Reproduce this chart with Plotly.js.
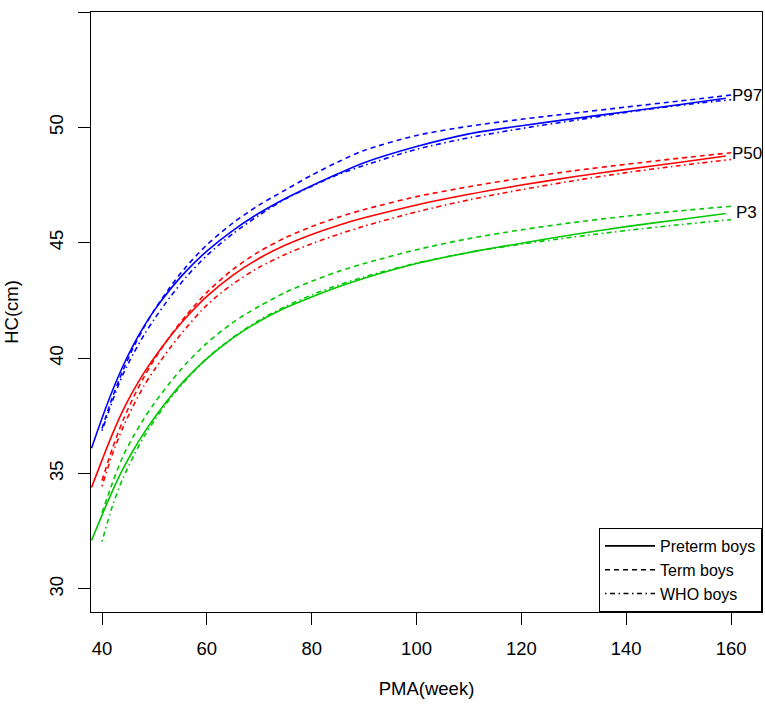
<!DOCTYPE html>
<html>
<head>
<meta charset="utf-8">
<script src="https://cdn.plot.ly/plotly-3.0.1.min.js"></script>
<style>
  body { margin: 0; background: #fff; }
  #plot { width: 765px; height: 708px; }
</style>
</head>
<body>
<div id="plot"></div>
<script>
// PMA (weeks) for each group of curves
var pmaPreterm = [38, 40, 42, 44, 46, 48, 50, 53, 56, 60, 65, 70, 75, 80, 85, 90, 100, 110, 120, 130, 140, 150, 159];
var pmaRef = [40, 42, 44, 46, 48, 50, 53, 56, 60, 65, 70, 75, 80, 85, 90, 100, 110, 120, 130, 140, 150, 160];

// head circumference (cm)
var pretermP97 = [36.1, 37.4, 38.6, 39.66, 40.58, 41.38, 42.08, 42.98, 43.76, 44.64, 45.54, 46.29, 46.92, 47.47, 47.99, 48.47, 49.17, 49.72, 50.07, 50.38, 50.68, 50.98, 51.26];
var pretermP50 = [34.4, 35.58, 36.72, 37.74, 38.6, 39.36, 40.03, 40.94, 41.75, 42.68, 43.6, 44.33, 44.9, 45.36, 45.75, 46.08, 46.64, 47.1, 47.5, 47.86, 48.18, 48.48, 48.76];
var pretermP3 = [32.1, 33.2, 34.25, 35.2, 36.02, 36.76, 37.42, 38.32, 39.1, 39.98, 40.88, 41.6, 42.18, 42.65, 43.08, 43.46, 44.1, 44.58, 44.98, 45.36, 45.7, 46.0, 46.27];

var termP97 = [36.95, 38.31, 39.47, 40.47, 41.33, 42.09, 43.08, 43.95, 44.91, 45.86, 46.64, 47.29, 47.93, 48.5, 49.0, 49.65, 50.05, 50.35, 50.62, 50.88, 51.14, 51.4];
var termP50 = [34.7, 36.1, 37.3, 38.3, 39.18, 39.95, 40.96, 41.84, 42.85, 43.85, 44.62, 45.22, 45.7, 46.1, 46.44, 47.0, 47.43, 47.8, 48.12, 48.4, 48.66, 48.9];
var termP3 = [33.3, 34.6, 35.75, 36.62, 37.38, 38.05, 38.95, 39.75, 40.65, 41.55, 42.25, 42.85, 43.33, 43.75, 44.1, 44.7, 45.18, 45.56, 45.88, 46.15, 46.38, 46.58];

var whoP97 = [36.85, 38.15, 39.3, 40.2, 41.0, 41.7, 42.65, 43.5, 44.45, 45.4, 46.2, 46.9, 47.45, 47.95, 48.35, 49.05, 49.55, 49.95, 50.3, 50.65, 50.95, 51.2];
var whoP50 = [34.45, 35.85, 37.0, 37.95, 38.8, 39.5, 40.45, 41.3, 42.3, 43.22, 43.94, 44.5, 44.96, 45.36, 45.72, 46.34, 46.86, 47.3, 47.69, 48.04, 48.34, 48.61];
var whoP3 = [32.05, 33.6, 34.8, 35.75, 36.6, 37.3, 38.25, 39.05, 40.0, 40.9, 41.65, 42.24, 42.74, 43.16, 43.52, 44.12, 44.58, 44.94, 45.25, 45.53, 45.78, 46.0];

var centileLabels = ["P97", "P50", "P3"];
var labelY = [51.38, 48.85, 46.33];
var groupNames = ["Preterm boys", "Term boys", "WHO boys"];

var blue = "#0000ff", red = "#ff0000", green = "#00c800";
var dashTerm = "5px,4px";
var dashWho = "1.5px,3.5px,5px,3.5px";
var font = "Liberation Sans, Arial, sans-serif";

function curve(x, y, color, dash) {
    return {
        x: x,
        y: y,
        type: "scatter",
        mode: "lines",
        line: {color: color, width: 1.6, dash: dash, shape: "spline", smoothing: 0.8},
        showlegend: false,
        hoverinfo: "skip"
    };
}

// black dummy traces for the legend only
function legendItem(name, dash) {
    return {
        x: [null],
        y: [null],
        type: "scatter",
        mode: "lines",
        name: name,
        line: {color: "black", width: 1.6, dash: dash}
    };
}

var data = [
    curve(pmaPreterm, pretermP97, blue, "solid"),
    curve(pmaRef, termP97, blue, dashTerm),
    curve(pmaRef, whoP97, blue, dashWho),
    curve(pmaPreterm, pretermP50, red, "solid"),
    curve(pmaRef, termP50, red, dashTerm),
    curve(pmaRef, whoP50, red, dashWho),
    curve(pmaPreterm, pretermP3, green, "solid"),
    curve(pmaRef, termP3, green, dashTerm),
    curve(pmaRef, whoP3, green, dashWho),
    legendItem(groupNames[0], "solid"),
    legendItem(groupNames[1], dashTerm),
    legendItem(groupNames[2], dashWho)
];

var annotations = centileLabels.map(function (lab, i) {
    return {
        x: 163, y: labelY[i], xref: "x", yref: "y",
        text: lab, showarrow: false,
        xanchor: "center", yanchor: "middle",
        font: {family: font, size: 17, color: "black"}
    };
});

var axisCommon = {
    showgrid: false,
    zeroline: false,
    showline: true,
    mirror: true,
    linecolor: "black",
    linewidth: 1,
    ticks: "outside",
    ticklen: 12,
    tickwidth: 1,
    tickcolor: "black",
    tickfont: {family: font, size: 18.5, color: "black"}
};

var layout = {
    width: 765,
    height: 708,
    margin: {l: 91, r: 3, t: 12, b: 96},
    paper_bgcolor: "white",
    plot_bgcolor: "white",
    font: {family: font, color: "black"},
    xaxis: Object.assign({}, axisCommon, {
        range: [37.9, 165.9],
        tick0: 40,
        dtick: 20,
        ticklabelstandoff: 8,
        title: {text: "PMA(week)", font: {family: font, size: 18.5, color: "black"}, standoff: 23}
    }),
    yaxis: Object.assign({}, axisCommon, {
        range: [29, 55],
        tick0: 30,
        dtick: 5,
        tickangle: -90,
        ticklabelstandoff: 8,
        title: {text: "HC(cm)", font: {family: font, size: 18.5, color: "black"}, standoff: 22}
    }),
    legend: {
        x: 1, y: 0, xanchor: "right", yanchor: "bottom",
        bgcolor: "white",
        bordercolor: "black",
        borderwidth: 1,
        itemwidth: 50,
        font: {family: font, size: 16, color: "black"},
        tracegroupgap: 0
    },
    annotations: annotations
};

Plotly.newPlot("plot", data, layout, {staticPlot: true});
</script>
</body>
</html>
